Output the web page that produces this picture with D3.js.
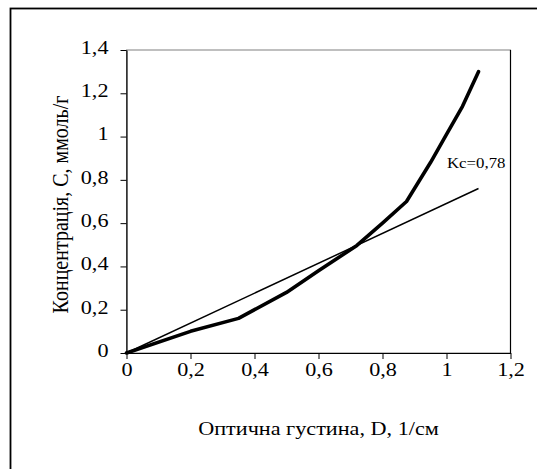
<!DOCTYPE html>
<html>
<head>
<meta charset="utf-8">
<script src="https://cdn.jsdelivr.net/npm/d3@7"></script>
<style>
  body { margin: 0; background: #fff; }
  svg { display: block; font-family: "Liberation Serif", "DejaVu Serif", serif; }
</style>
</head>
<body>
<svg width="537" height="469"></svg>
<script>
// measured curve: optical density D vs concentration C
var densD = [0, 0.2, 0.35, 0.5, 0.6, 0.72, 0.8, 0.875, 0.95, 1.0, 1.05, 1.1];
var concC = [0, 0.1, 0.16, 0.28, 0.38, 0.497, 0.6, 0.7, 0.88, 1.01, 1.14, 1.3];
// straight line Kc
var lineD = [0, 1.1];
var lineC = [0, 0.76];
var xTicks = [0, 0.2, 0.4, 0.6, 0.8, 1, 1.2];
var yTicks = [0, 0.2, 0.4, 0.6, 0.8, 1, 1.2, 1.4];
var kcLabel = "Kc=0,78";

var svg = d3.select('svg');
var margin = { left: 126.5, top: 50, right: 26.5, bottom: 116 };
var width = 537 - margin.left - margin.right, height = 469 - margin.top - margin.bottom;
var fmt = function (d) { return String(d).replace('.', ','); };
var sx = 1.2; // text in the picture is a bit wide

// outer frame (runs off the right/bottom edge)
svg.append('rect').attr('x', 10.5).attr('y', 8.5).attr('width', 700).attr('height', 700)
    .attr('fill', 'none').attr('stroke', '#000').attr('stroke-width', 1.8);

var g = svg.append('g').attr('transform', 'translate(' + margin.left + ',' + margin.top + ')');

var x = d3.scaleLinear().domain([0, 1.2]).range([0, width]);
var y = d3.scaleLinear().domain([0, 1.4]).range([height, 0]);

// plot area box
g.append('rect').attr('width', width).attr('height', height)
    .attr('fill', 'none').attr('stroke', '#808080').attr('stroke-width', 1);
g.append('line').attr('x1', width).attr('x2', width).attr('y1', 0).attr('y2', height)
    .attr('stroke', '#000').attr('stroke-width', 1.2);

var xAxis = g.append('g').attr('transform', 'translate(0,' + height + ')')
    .call(d3.axisBottom(x).tickValues(xTicks).tickFormat(fmt).tickSize(6).tickSizeOuter(0).tickPadding(4));
var yAxis = g.append('g')
    .call(d3.axisLeft(y).tickValues(yTicks).tickFormat(fmt).tickSize(6).tickSizeOuter(0).tickPadding(9));

[xAxis, yAxis].forEach(function (a) {
    a.attr('font-family', null).attr('font-size', null);
    a.selectAll('path').attr('stroke', '#000').attr('stroke-width', 1.2);
    a.selectAll('line').attr('stroke', '#000');
    a.selectAll('text').attr('font-size', 18.5).attr('fill', '#000')
        .attr('transform', 'scale(' + sx + ',1)');
});
yAxis.selectAll('text').attr('dy', '0.18em');

var line = d3.line().x(function (d) { return x(d[0]); }).y(function (d) { return y(d[1]); });

g.append('path').datum(d3.zip(lineD, lineC)).attr('d', line)
    .attr('fill', 'none').attr('stroke', '#000').attr('stroke-width', 1.5);

g.append('path').datum(d3.zip(densD, concC)).attr('d', line)
    .attr('fill', 'none').attr('stroke', '#000').attr('stroke-width', 3.6)
    .attr('stroke-linejoin', 'round').attr('stroke-linecap', 'round');

g.append('text').attr('transform', 'translate(' + (447 - margin.left) + ',' + (168 - margin.top) + ') scale(' + sx + ',1)')
    .attr('font-size', 14).text(kcLabel);

svg.append('text').attr('transform', 'translate(' + (margin.left + width / 2) + ',435) scale(' + sx + ',1)')
    .attr('text-anchor', 'middle').attr('font-size', 18.5).text('Оптична густина, D, 1/см');

svg.append('text').attr('transform', 'translate(68,' + (margin.top + height / 2 + 3) + ') rotate(-90) scale(1,' + sx + ')')
    .attr('text-anchor', 'middle').attr('font-size', 20).text('Концентрація, С, ммоль/г');
</script>
</body>
</html>
